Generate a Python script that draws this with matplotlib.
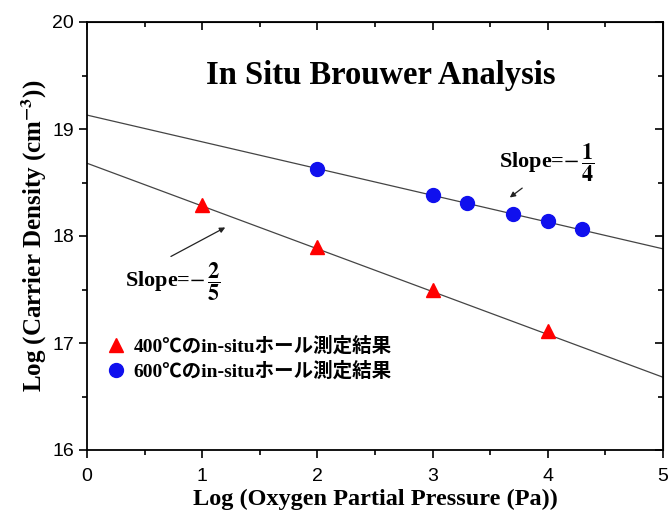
import numpy as np
import matplotlib.pyplot as plt

# 400C in-situ Hall data
x_400 = [1, 2, 3, 4]
y_400 = [18.29, 17.90, 17.50, 17.11]
# 600C in-situ Hall data
x_600 = [2, 3, 3.3, 3.7, 4, 4.3]
y_600 = [18.63, 18.38, 18.31, 18.21, 18.14, 18.07]

# fitted lines: intercept, slope
fit_400 = (18.68, -2 / 5)
fit_600 = (19.13, -1 / 4)

label_400 = '400℃のin-situホール測定結果'
label_600 = '600℃のin-situホール測定結果'

plt.rcParams['mathtext.fontset'] = 'stix'
serif = ['Liberation Serif', 'Noto Sans CJK JP']
sans = 'Liberation Sans'

fig = plt.figure(figsize=(6.71, 5.17), dpi=100)
ax = fig.add_axes([87 / 671, 67 / 517, 576 / 671, 428 / 517])

xx = np.array([0, 5])
ax.plot(xx, fit_400[0] + fit_400[1] * xx, color='#444444', lw=0.9, zorder=1)
ax.plot(xx, fit_600[0] + fit_600[1] * xx, color='#444444', lw=0.9, zorder=1)

ax.plot(x_400, y_400, '^', color='red', ms=10, label=label_400, zorder=3)
ax.plot(x_600, y_600, 'o', color='#1010ee', ms=10, label=label_600, zorder=3)

ax.set_xlim(0, 5)
ax.set_ylim(16, 20)
ax.set_xticks([0, 1, 2, 3, 4, 5])
ax.set_yticks([16, 17, 18, 19, 20])
ax.set_xticks(np.arange(0.5, 5, 1), minor=True)
ax.set_yticks(np.arange(16.5, 20, 1), minor=True)
ax.tick_params(which='both', direction='out', width=1.2)
ax.tick_params(which='major', length=6, labelsize=14)
ax.tick_params(which='minor', length=3.5)
ax.tick_params(axis='x', which='major', pad=7)
for lab in ax.get_xticklabels() + ax.get_yticklabels():
    lab.set_family(sans)
for s in ax.spines.values():
    s.set_linewidth(1.3)

# mirrored ticks on top / right point inward
top = ax.secondary_xaxis('top')
top.set_xticks([0, 1, 2, 3, 4, 5])
top.set_xticks(np.arange(0.5, 5, 1), minor=True)
right = ax.secondary_yaxis('right')
right.set_yticks([16, 17, 18, 19, 20])
right.set_yticks(np.arange(16.5, 20, 1), minor=True)
for sec in (top, right):
    sec.tick_params(which='both', direction='in', width=1.2,
                    labeltop=False, labelright=False)
    sec.tick_params(which='major', length=6)
    sec.tick_params(which='minor', length=3.5)

ax.set_xlabel('Log (Oxygen Partial Pressure (Pa))', family=serif,
              fontweight='bold', fontsize=17.5, labelpad=3)
ax.set_ylabel(r'Log (Carrier Density (cm$^{\mathbf{-3}}$))', family=serif,
              fontweight='bold', fontsize=18, labelpad=2)

ax.text(2.55, 19.5, 'In Situ Brouwer Analysis', family=serif,
        fontweight='bold', fontsize=23.5, ha='center', va='center')

ax.annotate(r'Slope=$-\,\dfrac{\mathbf{1}}{\mathbf{4}}$', xy=(3.67, 18.36),
            xytext=(3.58, 18.69), family=serif, fontweight='bold',
            fontsize=16, va='center',
            arrowprops=dict(arrowstyle='-|>', color='#222222', lw=0.9,
                            mutation_scale=8, shrinkA=2, shrinkB=0,
                            relpos=(0.3, 0)))
ax.annotate(r'Slope=$-\,\dfrac{\mathbf{2}}{\mathbf{5}}$', xy=(1.2, 18.08),
            xytext=(0.33, 17.57), family=serif, fontweight='bold',
            fontsize=16, va='center',
            arrowprops=dict(arrowstyle='-|>', color='#222222', lw=0.9,
                            mutation_scale=8, shrinkA=2, shrinkB=0,
                            relpos=(0.4, 1)))

ax.legend(loc='lower left', bbox_to_anchor=(0.0, 0.12), frameon=False,
          prop=dict(family=serif, weight='bold', size=14),
          handletextpad=0.3, labelspacing=0.3, handlelength=1.2)

fig.savefig('out.png', dpi=100)
